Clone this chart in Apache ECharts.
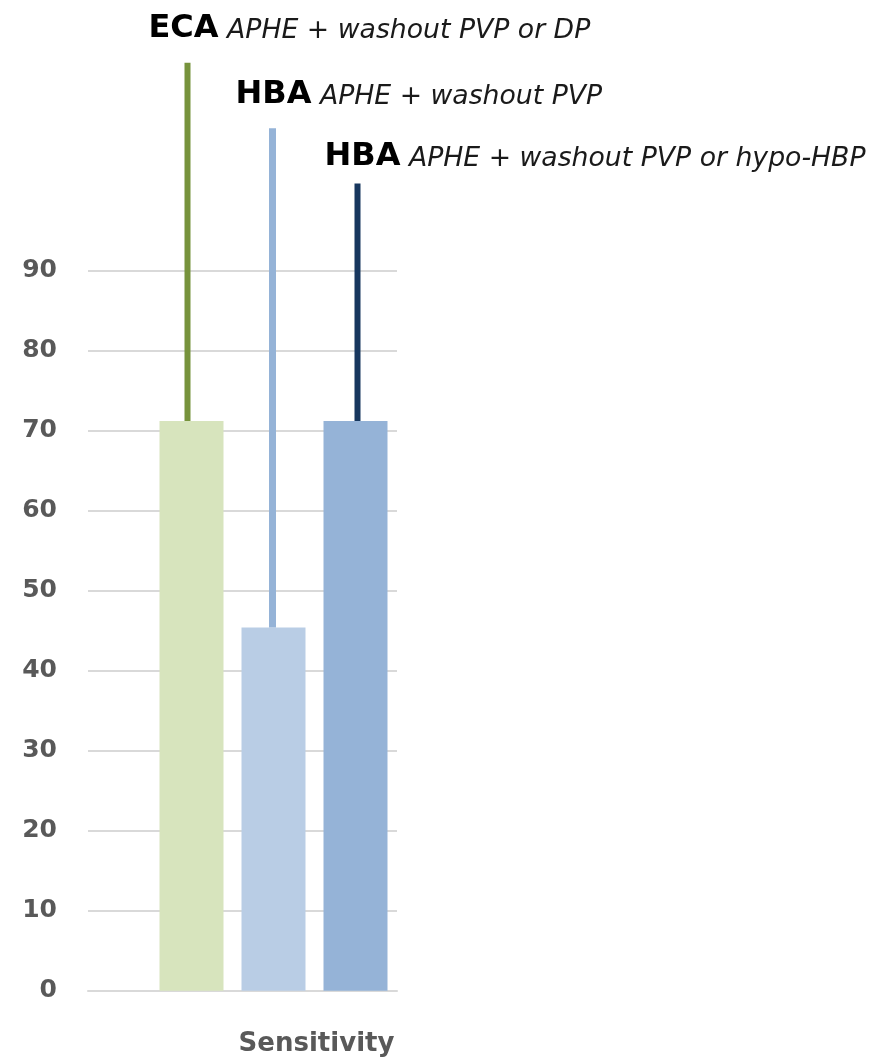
<!DOCTYPE html>
<html>
<head>
<meta charset="utf-8">
<script src="https://cdn.jsdelivr.net/npm/echarts@6/dist/echarts.min.js"></script>
<style>
  html, body { margin: 0; padding: 0; background: #ffffff; }
  #chart { width: 875px; height: 1061px; }
</style>
</head>
<body>
<div id="chart"></div>
<script>
// ---- data ----
const categories = ['Sensitivity'];
const systems = ['ECA', 'HBA', 'HBA'];
const criteria = ['APHE + washout PVP or DP', 'APHE + washout PVP', 'APHE + washout PVP or hypo-HBP'];
const sensitivity = [71.2, 45.4, 71.2];
const upperBounds = [116, 107.8, 100.9];
const yTicks = [0, 10, 20, 30, 40, 50, 60, 70, 80, 90];

// ---- styling ----
const FONT = 'DejaVu Sans';
const AXIS_GREY = '#595959';
const GRID_GREY = '#d9d9d9';
const barColors = ['#d7e4bd', '#b9cde5', '#95b3d7'];
const whiskerColors = ['#77933c', '#95b3d7', '#17375e'];
const whiskerWidths = [6, 7, 6];
const whiskerNudge = [-4, -1, 2];
const calloutOffsets = [[-39, -18], [-37, -18], [-33, -11]];
const BAR_WIDTH = 64;
const BAR_GAP = 18;

const yMin = yTicks[0];
const yMax = yTicks[yTicks.length - 1];
const yStep = yTicks[1] - yTicks[0];

const gridTop = 270.7;
const gridBottom = 70.3;

const chart = echarts.init(document.getElementById('chart'), null, { renderer: 'canvas' });

const barSeries = sensitivity.map((v, i) => ({
  type: 'bar',
  name: systems[i],
  xAxisIndex: 1,
  yAxisIndex: 1,
  barWidth: BAR_WIDTH,
  barGap: (BAR_GAP / BAR_WIDTH * 100) + '%',
  itemStyle: { color: barColors[i] },
  data: [v],
  z: 3
}));

// vertical whiskers from each bar top, each carrying its scoring-system callout
const whiskerSeries = {
  type: 'custom',
  xAxisIndex: 1,
  yAxisIndex: 1,
  clip: false,
  z: 4,
  data: sensitivity.map((v, i) => [0, v, upperBounds[i], i]),
  encode: { x: 0, y: [1, 2] },
  renderItem: function (params, api) {
    const idx = api.value(3);
    const base = api.coord([api.value(0), api.value(1)]);
    const top = api.coord([api.value(0), api.value(2)]);
    const x = base[0] + (idx - 1) * (BAR_WIDTH + BAR_GAP) + whiskerNudge[idx];
    const off = calloutOffsets[idx];
    return {
      type: 'group',
      children: [
        {
          type: 'line',
          shape: { x1: x, y1: base[1], x2: x, y2: top[1] },
          style: { stroke: whiskerColors[idx], lineWidth: whiskerWidths[idx] }
        },
        {
          type: 'text',
          x: x + off[0],
          y: top[1] + off[1],
          style: {
            text: '{b|' + systems[idx] + '}{i| ' + criteria[idx] + '}',
            align: 'left',
            verticalAlign: 'bottom',
            rich: {
              b: { fontFamily: FONT, fontSize: 32, fontWeight: 'bold', fill: '#000000', color: '#000000', verticalAlign: 'bottom' },
              i: { fontFamily: FONT, fontSize: 26.7, fontStyle: 'italic', fill: '#1a1a1a', color: '#1a1a1a', verticalAlign: 'bottom' }
            }
          }
        }
      ]
    };
  }
};

chart.setOption({
  animation: false,
  backgroundColor: '#ffffff',
  grid: [
    { left: 88, right: 875 - 397, top: gridTop, bottom: gridBottom },
    { left: 150, right: 875 - 397, top: gridTop, bottom: gridBottom }
  ],
  xAxis: [
    {
      type: 'category',
      gridIndex: 0,
      data: categories,
      axisLine: { show: true, lineStyle: { color: GRID_GREY, width: 2 } },
      axisTick: { show: false },
      axisLabel: { show: false },
      splitLine: { show: false }
    },
    {
      type: 'category',
      gridIndex: 1,
      data: categories,
      axisLine: { show: false },
      axisTick: { show: false },
      splitLine: { show: false },
      axisLabel: {
        show: true,
        interval: 0,
        margin: 41,
        padding: [0, 0, 0, 86],
        lineHeight: 26,
        fontFamily: FONT,
        fontSize: 26,
        fontWeight: 'bold',
        color: AXIS_GREY
      }
    }
  ],
  yAxis: [
    {
      type: 'value',
      gridIndex: 0,
      min: yMin,
      max: yMax,
      interval: yStep,
      axisLine: { show: false },
      axisTick: { show: false },
      splitLine: { show: true, lineStyle: { color: GRID_GREY, width: 2 } },
      axisLabel: {
        margin: 31,
        padding: [0, 0, 4, 0],
        fontFamily: FONT,
        fontSize: 25,
        fontWeight: 'bold',
        color: AXIS_GREY
      }
    },
    {
      type: 'value',
      gridIndex: 1,
      min: yMin,
      max: yMax,
      interval: yStep,
      show: false
    }
  ],
  series: barSeries.concat([whiskerSeries])
});
</script>
</body>
</html>
